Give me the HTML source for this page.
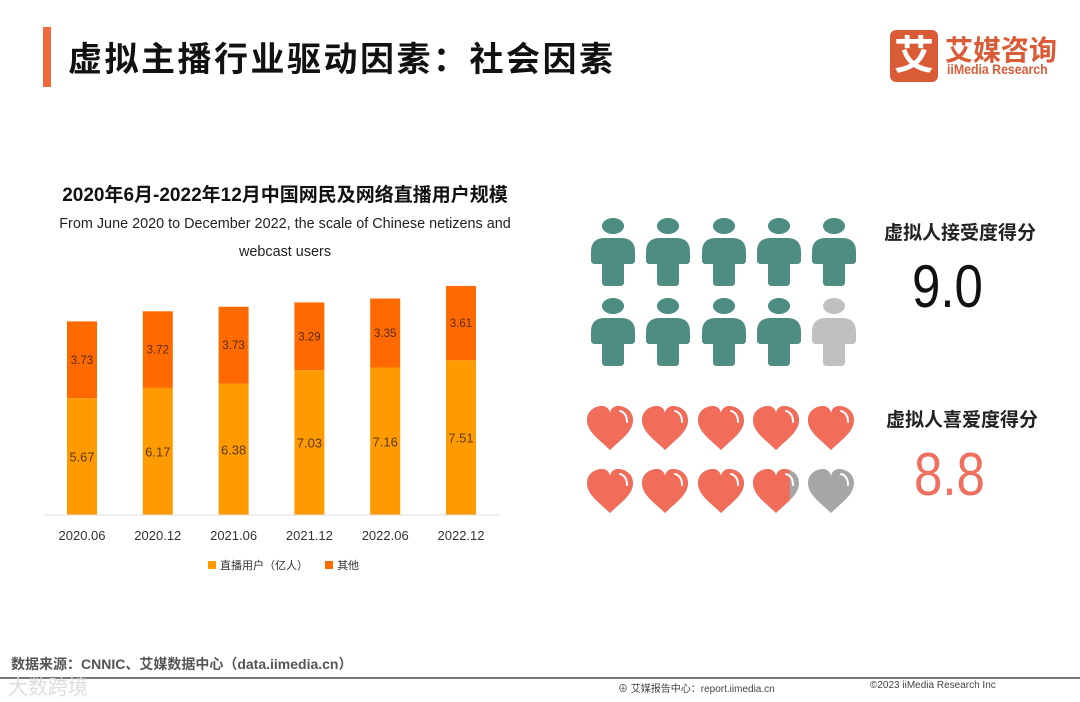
<!DOCTYPE html>
<html><head><meta charset="utf-8">
<style>
body{margin:0;width:1080px;height:702px;background:#fff;position:relative;overflow:hidden;font-family:"Liberation Sans","Noto Sans CJK SC",sans-serif;}
.abs{position:absolute;}
</style></head>
<body>
<div class="abs" style="left:43px;top:27px;width:8px;height:60px;background:#ee6a3d"></div>
<div class="abs" style="left:68px;top:32px;font-size:34px;font-weight:bold;color:#111;letter-spacing:2.5px">虚拟主播行业驱动因素：社会因素</div>

<div>
<div class="abs" style="left:890px;top:30px;width:48px;height:52px;background:#d95c37;border-radius:6px;color:#fff;font-size:40px;font-weight:bold;text-align:center;line-height:52px">艾</div>
<div class="abs" style="left:945px;top:29px;font-size:28px;font-weight:bold;color:#d95c37;letter-spacing:0px">艾媒咨询</div>
<div class="abs" style="left:947px;top:61px;font-size:14px;font-weight:bold;color:#d95c37;transform:scaleX(0.88);transform-origin:left">iiMedia Research</div>
</div>

<div class="abs" style="left:0;width:570px;top:180px;text-align:center;font-size:19px;font-weight:bold;color:#111">2020年6月-2022年12月中国网民及网络直播用户规模</div>
<div class="abs" style="left:30px;width:510px;top:210px;text-align:center;font-size:15px;line-height:28px;color:#222;transform:scaleX(0.96)">From June 2020 to December 2022, the scale of Chinese netizens and webcast users</div>

<svg id="chart" class="abs" style="left:0;top:0" width="560" height="600"></svg>

<div class="abs" style="left:208px;top:557px;font-size:11px;color:#333">
<span><span style="display:inline-block;width:8px;height:8px;background:#ff9a00;margin-right:4px"></span>直播用户（亿人）</span>
<span style="margin-left:14px"><span style="display:inline-block;width:8px;height:8px;background:#ff6a00;margin-right:4px"></span>其他</span>
</div>

<svg id="icons" class="abs" style="left:0;top:0" width="1080" height="702"></svg>

<div class="abs" style="left:884px;top:218px;font-size:19px;font-weight:bold;color:#222">虚拟人接受度得分</div>
<div class="abs" style="left:912px;top:252px;font-size:60px;color:#111;transform:scaleX(0.85);transform-origin:left">9.0</div>
<div class="abs" style="left:886px;top:405px;font-size:19px;font-weight:bold;color:#222">虚拟人喜爱度得分</div>
<div class="abs" style="left:914px;top:440px;font-size:60px;color:#f07060;transform:scaleX(0.85);transform-origin:left">8.8</div>

<div class="abs" style="left:11px;top:654px;font-size:14px;font-weight:bold;color:#555">数据来源：CNNIC、艾媒数据中心（data.iimedia.cn）</div>
<div class="abs" style="left:0;top:677px;width:1080px;height:2px;background:#777"></div>
<div class="abs" style="left:8px;top:671px;font-size:20px;color:#ddd">大数跨境</div>
<div class="abs" style="left:618px;top:680px;font-size:10px;color:#444">⊕ 艾媒报告中心：report.iimedia.cn</div>
<div class="abs" style="left:870px;top:680px;font-size:10px;color:#444">©2023  iiMedia Research  Inc</div>

<script>
const categories=["2020.06","2020.12","2021.06","2021.12","2022.06","2022.12"];
const liveUsers=[5.67,6.17,6.38,7.03,7.16,7.51];
const others=[3.73,3.72,3.73,3.29,3.35,3.61];
const NS="http://www.w3.org/2000/svg";
const svg=document.getElementById('chart');
const baseY=515, pxPerUnit=20.6, x0=82, step=75.8, bw=30;
function xPos(i){return x0+i*step;}
function yPos(v){return baseY-v*pxPerUnit;}
function mk(tag,attrs){const e=document.createElementNS(NS,tag);for(const k in attrs)e.setAttribute(k,attrs[k]);svg.appendChild(e);return e;}
categories.forEach((c,i)=>{
  const cx=xPos(i);
  const r1=mk('rect',{x:cx-bw/2,y:yPos(liveUsers[i]),width:bw,height:liveUsers[i]*pxPerUnit,fill:'#ff9a00'});
  
  
  const tot=liveUsers[i]+others[i];
  const r2=mk('rect',{x:cx-bw/2,y:yPos(tot),width:bw,height:others[i]*pxPerUnit,fill:'#ff6a00'});
  
  
  const t1=mk('text',{x:cx,y:yPos(liveUsers[i]/2)+5,'text-anchor':'middle','font-size':13,fill:'#5a3a10'});
  t1.textContent=liveUsers[i].toFixed(2);
  
  
  const t2=mk('text',{x:cx,y:yPos(liveUsers[i]+others[i]/2)+4,'text-anchor':'middle','font-size':11.5,fill:'#5a2a10'});
  t2.textContent=others[i].toFixed(2);
  
  
  const tl=mk('text',{x:cx,y:540,'text-anchor':'middle','font-size':13,fill:'#333'});
  tl.textContent=c;
  
  
});
const ax=mk('line',{x1:44,x2:500,y1:baseY,y2:baseY,stroke:'#ddd','stroke-width':1});



const isv=document.getElementById('icons');
function im(tag,attrs,parent){const e=document.createElementNS(NS,tag);for(const k in attrs)e.setAttribute(k,attrs[k]);(parent||isv).appendChild(e);return e;}
const iconX=[613,668,724,779,834];
const acceptance=9.0, fondness=8.8;
function person(cx,top,color){
  const g=im('g',{fill:color});
  im('ellipse',{cx:cx,cy:top+8,rx:11,ry:8},g);
  im('path',{d:`M${cx-22} ${top+34} Q${cx-22} ${top+20} ${cx-8} ${top+20} L${cx+8} ${top+20} Q${cx+22} ${top+20} ${cx+22} ${top+34} L${cx+22} ${top+42} Q${cx+22} ${top+46} ${cx+18} ${top+46} L${cx+11} ${top+46} L${cx+11} ${top+64} Q${cx+11} ${top+68} ${cx+7} ${top+68} L${cx-7} ${top+68} Q${cx-11} ${top+68} ${cx-11} ${top+64} L${cx-11} ${top+46} L${cx-18} ${top+46} Q${cx-22} ${top+46} ${cx-22} ${top+42} Z`},g);
  return g;
}
function heartPath(cx,cy){return `M${cx} ${cy+22} C${cx-10} ${cy+12} ${cx-23} ${cy+4} ${cx-23} ${cy-8} C${cx-23} ${cy-18} ${cx-14} ${cy-22} ${cx-8} ${cy-22} C${cx-3} ${cy-22} ${cx} ${cy-18} ${cx} ${cy-14} C${cx} ${cy-18} ${cx+3} ${cy-22} ${cx+8} ${cy-22} C${cx+14} ${cy-22} ${cx+23} ${cy-18} ${cx+23} ${cy-8} C${cx+23} ${cy+4} ${cx+10} ${cy+12} ${cx} ${cy+22} Z`;}
let idx=0;
[218,298].forEach(top=>{iconX.forEach(cx=>{
  const frac=Math.max(0,Math.min(1,acceptance-idx));
  const g=person(cx,top,'#c0c0c0');
  
  
  if(frac>0){
    const cid='pc'+idx;
    const cp=im('clipPath',{id:cid});im('rect',{x:cx-23,y:top,width:46*frac,height:70},cp);
    const g2=person(cx,top,'#4e8d82');g2.setAttribute('clip-path',`url(#${cid})`);
  }
  idx++;
});});
idx=0;
[428,491].forEach(cy=>{iconX.forEach(cx=>{
  const frac=Math.max(0,Math.min(1,fondness-idx));
  const h=im('path',{d:heartPath(cx-3,cy),fill:'#a6a6a6'});
  
  
  if(frac>0){
    const cid='hc'+idx;
    const cp=im('clipPath',{id:cid});im('rect',{x:cx-26,y:cy-25,width:46*frac,height:50},cp);
    const h2=im('path',{d:heartPath(cx-3,cy),fill:'#f26c5a'});h2.setAttribute('clip-path',`url(#${cid})`);
  }
  const hl=im('path',{d:`M${cx+7} ${cy-17} Q${cx+14} ${cy-15} ${cx+14} ${cy-6}`,stroke:'#ffffff','stroke-width':2,fill:'none','stroke-linecap':'round'});
  idx++;
});});
</script>
</body></html>
